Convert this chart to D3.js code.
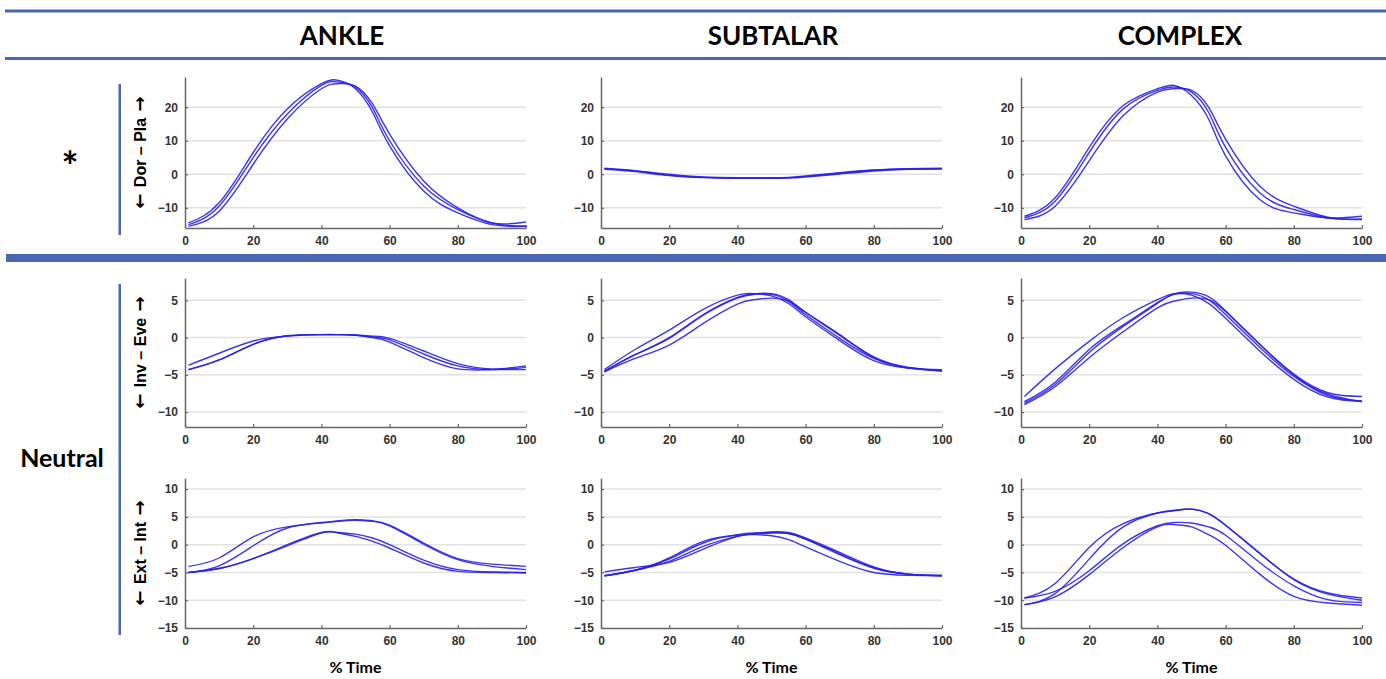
<!DOCTYPE html>
<html>
<head>
<meta charset="utf-8">
<script src="https://cdn.jsdelivr.net/npm/d3@7"></script>
<style>
  body { margin: 0; background: #fff; }
  .tick text { font-family: "Liberation Sans", Arial, sans-serif; font-weight: bold; font-size: 12px; fill: #333; }
  .head { font-family: Lato, "Open Sans", sans-serif; font-weight: 700; fill: #000; }
  .ylab { font-family: "Liberation Sans", Arial, sans-serif; font-weight: bold; font-size: 16px; fill: #000; }
  .arrow { font-family: "DejaVu Sans", sans-serif; font-weight: bold; font-size: 18px; }
</style>
</head>
<body>
<div id="chart"></div>
<script>
///////////////////////////////////////////
// Data
///////////////////////////////////////////
var timePts = [1, 10, 20, 30, 40, 45, 50, 55, 60, 70, 80, 90, 100];
var joints = ["ANKLE", "SUBTALAR", "COMPLEX"];
var motions = ["Dor \u2013 Pla", "Inv \u2013 Eve", "Ext \u2013 Int"];
var rowDomains = [[-16, 29], [-12, 8], [-15, 12]];
var rowTicks = [[-10, 0, 10, 20], [-10, -5, 0, 5], [-15, -10, -5, 0, 5, 10]];
var timeTicks = [0, 20, 40, 60, 80, 100];

// row 1: dorsi / plantar flexion
var ankleDorPla = [
  [-14.5, -8.5, 6.5, 19.5, 27, 28, 25.5, 18.5, 8.5, -5, -11.5, -15, -15.5],
  [-15, -9.5, 5, 18, 26.5, 27.5, 26, 19.8, 10, -3.5, -10.5, -14.5, -15.5],
  [-15.5, -11, 3, 16.5, 25.5, 27, 26.3, 21, 12, -2, -10, -14.5, -14.2]
];
var subtalarDorPla = [
  [1.7, 1.0, -0.2, -0.9, -1.1, -1.1, -1.1, -1.0, -0.6, 0.3, 1.2, 1.6, 1.7],
  [1.5, 0.8, -0.4, -1.0, -1.2, -1.2, -1.2, -1.1, -0.8, 0.1, 1.0, 1.5, 1.6],
  [1.8, 1.1, 0.0, -0.8, -1.0, -1.0, -1.0, -0.9, -0.5, 0.5, 1.3, 1.7, 1.8]
];
var complexDorPla = [
  [-12.5, -7, 8, 20.5, 25.5, 26.5, 23.5, 16.5, 5.5, -7.5, -11.5, -13, -12.5],
  [-13, -8, 6.5, 19.5, 25, 26, 24.5, 18.5, 8, -5.5, -10.5, -13, -13.3],
  [-13.5, -9.5, 4, 17.5, 24.5, 25.5, 25, 20, 10.5, -3.5, -9.5, -12.8, -13.5]
];

// row 2: inversion / eversion
var ankleInvEve = [
  [-3.7, -2.1, -0.45, 0.2, 0.4, 0.4, 0.35, 0.2, -0.1, -1.8, -3.5, -4.2, -3.8],
  [-4.3, -3.0, -0.9, 0.25, 0.4, 0.4, 0.35, 0.1, -0.3, -2.2, -3.8, -4.3, -4.0],
  [-4.3, -3.0, -0.9, 0.25, 0.4, 0.4, 0.3, 0.0, -0.6, -2.7, -4.2, -4.3, -4.3]
];
var subtalarInvEve = [
  [-4.3, -1.6, 1.0, 3.8, 5.7, 5.9, 5.6, 4.6, 2.8, -0.4, -3.1, -4.1, -4.4],
  [-4.6, -2.3, -0.1, 3.0, 5.3, 5.8, 5.8, 4.9, 3.1, -0.1, -2.8, -4.0, -4.5],
  [-4.5, -2.3, 0.0, 3.1, 5.4, 5.9, 5.9, 5.1, 3.4, 0.3, -2.6, -4.0, -4.3],
  [-4.6, -2.8, -1.0, 1.9, 4.5, 5.1, 5.3, 4.9, 3.4, 0.4, -2.7, -4.1, -4.5]
];
var complexInvEve = [
  [-7.9, -4.2, -0.5, 2.7, 5.1, 5.9, 5.7, 4.6, 2.6, -1.8, -5.6, -8.0, -8.6],
  [-8.6, -6.0, -1.6, 1.7, 4.7, 5.8, 5.9, 5.1, 3.1, -1.3, -5.2, -7.6, -8.6],
  [-8.8, -6.3, -2.0, 1.5, 4.6, 5.9, 6.1, 5.5, 3.6, -0.9, -4.9, -7.4, -7.9],
  [-9.0, -6.6, -2.7, 0.8, 4.0, 4.9, 5.3, 5.1, 3.5, -0.9, -5.0, -7.8, -8.5]
];

// row 3: external / internal rotation
var ankleExtInt = [
  [-3.9, -2.4, 1.4, 3.2, 4.0, 4.3, 4.5, 4.3, 3.5, 0.3, -2.5, -3.5, -3.9],
  [-5.0, -3.8, -0.2, 3.0, 3.9, 4.2, 4.4, 4.2, 3.4, 0.1, -2.7, -3.9, -4.5],
  [-5.0, -4.3, -2.5, 0.0, 2.2, 2.2, 1.9, 1.2, 0.0, -2.8, -4.5, -4.9, -5.0],
  [-5.0, -4.3, -2.5, -0.2, 2.1, 2.1, 1.5, 0.6, -0.6, -3.3, -4.8, -5.0, -5.1]
];
var subtalarExtInt = [
  [-4.9, -4.1, -3.2, -0.8, 1.5, 1.9, 2.1, 2.0, 1.0, -1.8, -4.2, -5.3, -5.5],
  [-5.6, -4.6, -2.4, 0.6, 1.7, 1.8, 1.6, 0.9, -0.4, -3.0, -5.0, -5.5, -5.6],
  [-5.6, -4.6, -2.6, 0.3, 1.8, 2.1, 2.2, 2.0, 1.0, -1.6, -4.2, -5.3, -5.6],
  [-5.6, -4.6, -3.0, -0.3, 1.5, 2.0, 2.3, 2.2, 1.2, -1.4, -4.0, -5.3, -5.6]
];
var complexExtInt = [
  [-9.6, -7.0, -0.5, 3.8, 5.7, 6.1, 6.4, 5.6, 3.5, -1.6, -6.2, -8.7, -9.6],
  [-10.8, -8.8, -2.6, 3.2, 5.7, 6.2, 6.4, 5.6, 3.5, -1.5, -6.3, -8.9, -10.0],
  [-9.6, -8.4, -4.7, 0.2, 3.4, 4.0, 3.9, 3.2, 1.7, -3.2, -7.4, -9.9, -10.4],
  [-10.8, -9.4, -5.4, -0.5, 3.2, 3.6, 3.2, 1.8, -0.1, -5.3, -9.3, -10.5, -10.9]
];

var panelData = [
  [ankleDorPla, subtalarDorPla, complexDorPla],
  [ankleInvEve, subtalarInvEve, complexInvEve],
  [ankleExtInt, subtalarExtInt, complexExtInt]
];

///////////////////////////////////////////
// Layout
///////////////////////////////////////////
var W = 1386, H = 679;
var colLeft = [185, 601, 1021];
var titleX = [342, 773, 1180];
var plotW = 341;
var rowTop = [77, 278, 478];
var rowBottom = [228, 427, 628];
var frameBlue = "#4a66b0";
var lineBlue = "#2a1fe8";

var svg = d3.select("#chart").append("svg")
  .attr("width", W)
  .attr("height", H);

svg.append("rect").attr("width", W).attr("height", H).attr("fill", "#fff");

// header rules
svg.append("rect").attr("x", 5).attr("y", 9.5).attr("width", W - 5).attr("height", 3).attr("fill", frameBlue);
svg.append("rect").attr("x", 5).attr("y", 57).attr("width", W - 5).attr("height", 3).attr("fill", frameBlue);
svg.append("rect").attr("x", 6).attr("y", 254).attr("width", W - 6).attr("height", 8).attr("fill", frameBlue);

// joint titles
svg.selectAll(".joint")
  .data(joints)
  .enter().append("text")
  .attr("class", "head")
  .attr("x", function(d, i) { return titleX[i]; })
  .attr("y", 45)
  .attr("text-anchor", "middle")
  .style("font-size", "26px")
  .text(function(d) { return d; });

// group labels
svg.append("text").attr("class", "head")
  .attr("x", 70).attr("y", 181)
  .attr("text-anchor", "middle")
  .style("font-size", "40px")
  .text("*");
svg.append("text").attr("class", "head")
  .attr("x", 62).attr("y", 467)
  .attr("text-anchor", "middle")
  .style("font-size", "25px")
  .text("Neutral");

// vertical group bars
svg.append("rect").attr("x", 118.5).attr("y", 84).attr("width", 2.5).attr("height", 151).attr("fill", frameBlue);
svg.append("rect").attr("x", 118.5).attr("y", 284).attr("width", 2.5).attr("height", 351).attr("fill", frameBlue);

// rotated motion labels, arrows in a font that draws them full size
motions.forEach(function(m, r) {
  var cy = (rowTop[r] + rowBottom[r]) / 2;
  var t = svg.append("text")
    .attr("class", "ylab")
    .attr("transform", "translate(140," + cy + ") rotate(-90)")
    .attr("text-anchor", "middle")
    .attr("dy", "0.36em");
  t.append("tspan").attr("class", "arrow").text("\u2190 ");
  t.append("tspan").text(m);
  t.append("tspan").attr("class", "arrow").text(" \u2192");
});

var lineGen = d3.line().curve(d3.curveNatural);

///////////////////////////////////////////
// Panels
///////////////////////////////////////////
panelData.forEach(function(rowSets, r) {
  rowSets.forEach(function(curves, c) {
    var x = d3.scaleLinear().domain([0, 100]).range([colLeft[c], colLeft[c] + plotW]);
    var y = d3.scaleLinear().domain(rowDomains[r]).range([rowBottom[r], rowTop[r]]);
    var g = svg.append("g");

    // gridlines
    g.selectAll(".grid")
      .data(rowTicks[r].filter(function(v) { return v > rowDomains[r][0]; }))
      .enter().append("line")
      .attr("x1", x(0)).attr("x2", x(100))
      .attr("y1", function(d) { return y(d); })
      .attr("y2", function(d) { return y(d); })
      .attr("stroke", "#e2e2e2")
      .attr("stroke-width", 1.5);

    // curves
    lineGen.x(function(d, i) { return x(timePts[i]); })
           .y(function(d) { return y(d); });
    g.selectAll(".curve")
      .data(curves)
      .enter().append("path")
      .attr("d", function(d) { return lineGen(d); })
      .attr("fill", "none")
      .attr("stroke", lineBlue)
      .attr("stroke-width", 1.4)
      .attr("stroke-opacity", 0.9);

    // axes
    var ax = g.append("g")
      .attr("transform", "translate(0," + rowBottom[r] + ")")
      .call(d3.axisBottom(x).tickValues(timeTicks).tickSize(-3).tickSizeOuter(0).tickPadding(7));
    var ay = g.append("g")
      .attr("transform", "translate(" + colLeft[c] + ",0)")
      .call(d3.axisLeft(y).tickValues(rowTicks[r]).tickSize(-3).tickSizeOuter(0).tickPadding(7));
    [ax, ay].forEach(function(a) {
      a.select(".domain").attr("stroke", "#666").attr("stroke-width", 1.5);
      a.selectAll(".tick line").attr("stroke", "#666").attr("stroke-width", 1.2);
    });
    ax.selectAll(".tick text").attr("dy", "0.85em");

    if (r === 2) {
      g.append("text")
        .attr("class", "head")
        .attr("x", x(50))
        .attr("y", 673)
        .attr("text-anchor", "middle")
        .style("font-size", "16px")
        .text("% Time");
    }
  });
});
</script>
</body>
</html>
